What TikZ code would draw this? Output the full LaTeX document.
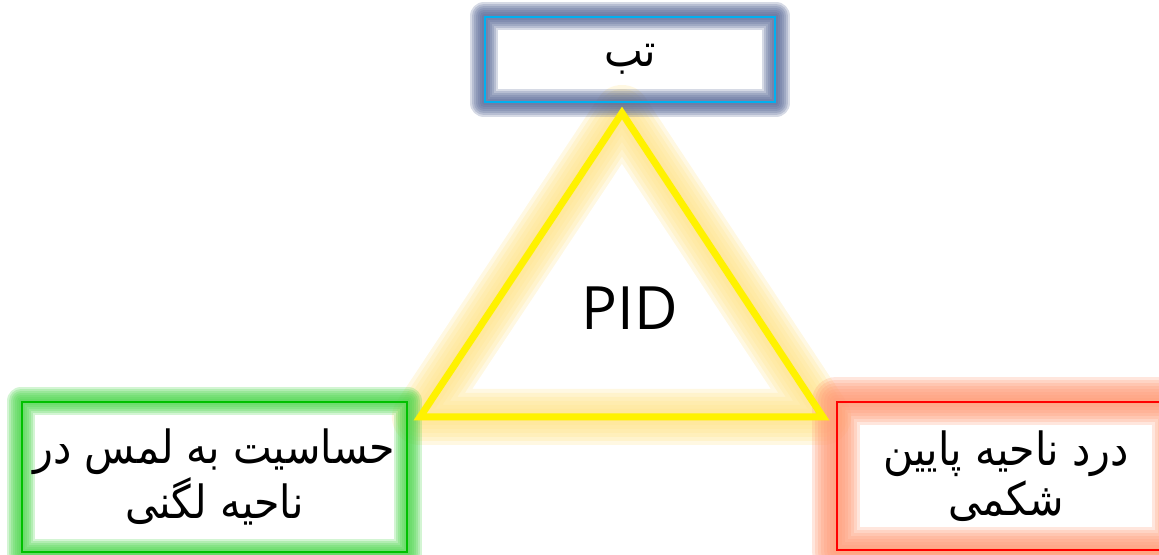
\documentclass[tikz,border=0pt]{standalone}
\usepackage{fontspec}
\setmainfont{Open Sans}
\newfontfamily\persian[Script=Arabic, FakeStretch=0.9]{DejaVu Sans}
\TeXXeTstate=1
\usetikzlibrary{positioning,backgrounds}
\definecolor{lineblue}{HTML}{00B0F0}
\definecolor{glowblue}{HTML}{5A6A98}
\definecolor{linegreen}{HTML}{00C000}
\definecolor{glowgreen}{HTML}{4FD64F}
\definecolor{linered}{HTML}{FF0000}
\definecolor{glowred}{HTML}{FF9C78}
\definecolor{glowyellow}{HTML}{FFE38A}
\tikzset{
glow/.style={draw=#1, line join=round, opacity=0.25},
box/.style={draw=#1, line width=0.5pt, align=center, inner sep=0pt,
    font=\persian\fontsize{13}{14.2}\selectfont},
}

\begin{document}
\begin{tikzpicture}[
        x=0.01cm, y=-0.01cm,
        side/.style={yellow, line width=0.07cm, line join=miter}
    ]
    \useasboundingbox (0,0) rectangle (1159,555);

    \node[box=lineblue, minimum width=2.9cm, minimum height=0.85cm] (fever) at (630,59.5) {\beginR تب\endR};
    \node[box=linegreen, minimum width=3.85cm, minimum height=1.5cm] (touch) at (214.5,477)
        {\beginR حساسیت به لمس در\endR\\\beginR ناحیه لگنی\endR};
    \node[box=linered, minimum width=3.38cm, minimum height=1.48cm] (pain) at (1006,476)
        {\beginR درد ناحیه پایین\endR\\\beginR شکمی\endR};

    \coordinate (apex) at (622,113);
    \coordinate (left) at (420,417);
    \coordinate (right) at (823,417);
    \draw[side] (apex) -- (left) -- (right) -- cycle;
    \node[font=\fontsize{17}{20}\selectfont] (pid) at (630,308) {PID};

    \begin{pgfonlayer}{background}
        \foreach \w in {8,16,...,56}
            \draw[glow=glowyellow, line width=\w*0.01cm] (apex) -- (left) -- (right) -- cycle;
        \foreach \w in {4,8,...,28} {
            \draw[glow=glowblue, line width=\w*0.01cm] (fever.north west) rectangle (fever.south east);
            \draw[glow=glowgreen, line width=\w*0.01cm] (touch.north west) rectangle (touch.south east);
        }
        \foreach \w in {6,12,...,48}
            \draw[glow=glowred, line width=\w*0.01cm] (pain.north west) rectangle (pain.south east);
    \end{pgfonlayer}
\end{tikzpicture}
\end{document}
